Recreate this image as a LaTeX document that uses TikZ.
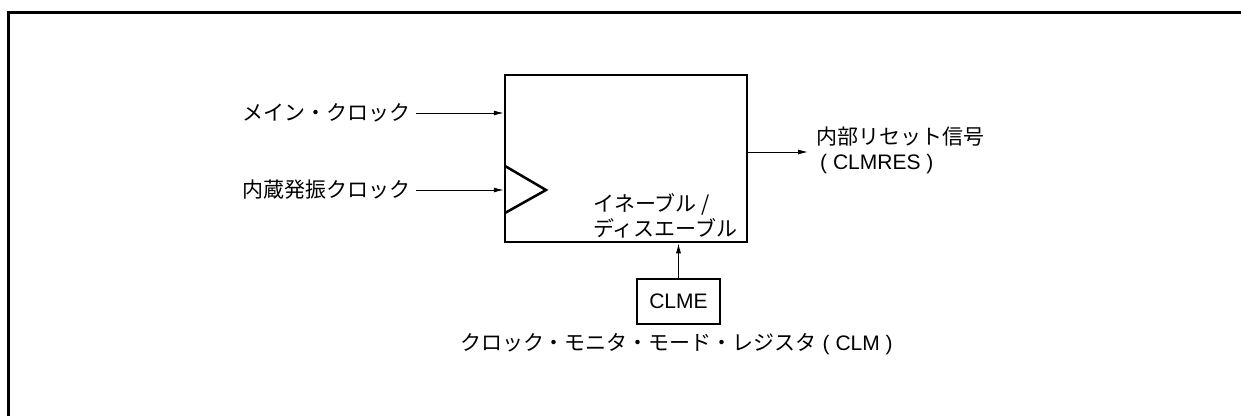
\documentclass[tikz,border=0pt]{standalone}
\usepackage{fontspec}
\setmainfont{Liberation Sans}
\newfontfamily\jp{Noto Sans CJK JP}
\usetikzlibrary{arrows.meta,positioning}

\begin{document}
\begin{tikzpicture}[x=1pt, y=1pt,
        txt/.style={font=\fontsize{21}{25}\selectfont, inner sep=0pt},
        sig/.style={-{Latex[length=10pt,width=5pt]}, line width=1pt},
        blk/.style={draw, line width=2.5pt, inner sep=0pt}]
    \useasboundingbox (0,0) rectangle (1241,416);
    \draw[line width=3pt] (8,0) -- (8,403) -- (1241,403);
    % control block with clock input mark
    \node[blk, minimum width=242, minimum height=167] (ctrl) at (626,257.5) {};
    \draw[line width=2.5pt] (505,250) -- (546,226) -- (505,203);
    \node[txt, anchor=west, align=left] (enlbl) at (593,200.5)
        {\jp イネーブル /\\\jp ディスエーブル};
    % inputs
    \node[txt, anchor=east] (mainclk) at (411,303) {\jp メイン・クロック};
    \node[txt, anchor=east] (oscclk) at (411,226) {\jp 内蔵発振クロック};
    \draw[sig] ([xshift=5pt]mainclk.east) -- (mainclk.east -| ctrl.west);
    \draw[sig] ([xshift=5pt]oscclk.east) -- (oscclk.east -| ctrl.west);
    % output
    \coordinate (rst) at (808,264);
    \draw[sig] (ctrl.east |- rst) -- (rst);
    \node[txt, anchor=west, align=left] (rstlbl) at (816,265.5)
        {\jp 内部リセット信号\\\hspace*{4pt}( CLMRES )};
    % register bit
    \node[blk, txt, minimum width=83, minimum height=45] (clme) at (678.5,114.5) {CLME};
    \draw[sig] (clme.north) -- (clme.north |- ctrl.south);
    \node[txt, below=8pt of clme, xshift=-2pt] (clmlbl)
        {\jp クロック・モニタ・モード・レジスタ\normalfont\ ( CLM )};
\end{tikzpicture}
\end{document}
